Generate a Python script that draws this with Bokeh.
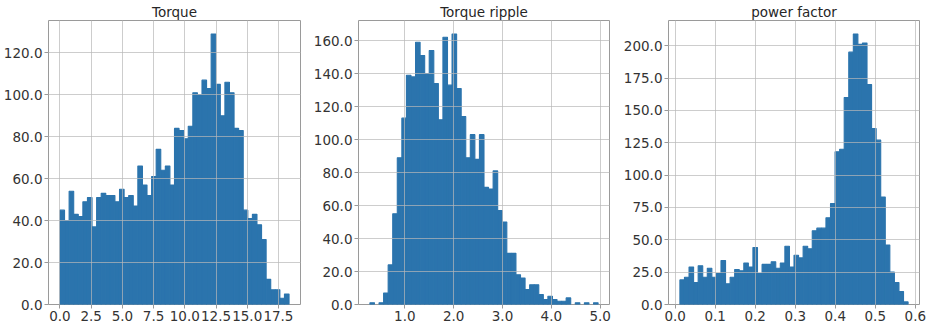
import numpy as np
from bokeh.plotting import figure
from bokeh.layouts import row
from bokeh.models import FixedTicker, NumeralTickFormatter, ColumnDataSource
from bokeh.embed import file_html
from bokeh.resources import INLINE

# ---- data (histogram counts, 50 bins each) ----
torque_title = "Torque"
torque_range = (0.0, 18.35)
torque_counts = [45, 40, 54, 43, 42, 49, 51, 37, 51, 53,
                 52, 52, 49, 55, 51, 52, 47, 66, 57, 52,
                 61, 74, 64, 66, 57, 84, 83, 79, 85, 101,
                 100, 107, 103, 129, 105, 90, 106, 101, 84, 83,
                 45, 41, 43, 38, 31, 12, 7, 7, 3, 5]
torque_xticks = [0.0, 2.5, 5.0, 7.5, 10.0, 12.5, 15.0, 17.5]
torque_yticks = [0, 20, 40, 60, 80, 100, 120]

ripple_title = "Torque ripple"
ripple_range = (0.285, 4.957)
ripple_counts = [1, 0, 1, 7, 24, 55, 89, 113, 139, 138,
                 159, 151, 140, 154, 134, 112, 162, 133, 164, 131,
                 114, 89, 103, 88, 103, 71, 70, 81, 57, 50,
                 31, 31, 18, 16, 9, 12, 12, 6, 3, 5,
                 3, 2, 2, 4, 0, 1, 0, 1, 0, 1]
ripple_xticks = [1.0, 2.0, 3.0, 4.0, 5.0]
ripple_yticks = [0, 20, 40, 60, 80, 100, 120, 140, 160]

pf_title = "power factor"
pf_range = (0.0118, 0.582)
pf_counts = [19, 21, 29, 17, 30, 21, 28, 21, 24, 34,
             16, 21, 27, 26, 32, 29, 44, 24, 31, 31,
             33, 28, 32, 45, 29, 38, 36, 45, 43, 57,
             59, 59, 67, 78, 118, 120, 160, 195, 209, 201,
             202, 170, 136, 127, 83, 46, 25, 17, 10, 2]
pf_xticks = [0.0, 0.1, 0.2, 0.3, 0.4, 0.5, 0.6]
pf_yticks = [0, 25, 50, 75, 100, 125, 150, 175, 200]

BAR = "#2b74ad"
FONT = "DejaVu Sans"


def make(title, counts, rng, xticks, yticks, frame_w, right_border):
    lo, hi = rng
    edges = np.linspace(lo, hi, len(counts) + 1)
    pad = 0.05 * (hi - lo)
    ymax = max(counts) * 1.05
    nz = [i for i, c in enumerate(counts) if c > 0]
    src = ColumnDataSource(dict(left=edges[:-1][nz], right=edges[1:][nz],
                                top=[counts[i] for i in nz],
                                bottom=[0] * len(nz)))
    p = figure(frame_width=frame_w, frame_height=284,
               x_range=(lo - pad, hi + pad), y_range=(0, ymax),
               output_backend="svg", toolbar_location=None,
               min_border_left=48, min_border_right=right_border,
               min_border_top=20, min_border_bottom=22)
    p.quad(left="left", right="right", top="top", bottom="bottom", source=src,
           fill_color=BAR, line_color=BAR, line_width=1.1)
    p.title.text = title
    p.title.align = "center"
    p.title.text_font = FONT
    p.title.text_font_size = "13.5px"
    p.title.text_font_style = "normal"
    p.title.text_color = "#262626"
    p.title.standoff = 2
    p.title.offset = 0
    p.xaxis.ticker = FixedTicker(ticks=xticks)
    p.yaxis.ticker = FixedTicker(ticks=yticks)
    p.xaxis.formatter = NumeralTickFormatter(format="0.0")
    p.yaxis.formatter = NumeralTickFormatter(format="0.0")
    for ax in (p.xaxis, p.yaxis):
        ax.axis_line_color = None
        ax.major_tick_out = 4
        ax.major_tick_in = 0
        ax.minor_tick_line_color = None
        ax.major_tick_line_color = "#9a9a9a"
        ax.major_label_text_font = FONT
        ax.major_label_text_font_size = "13.5px"
        ax.major_label_text_color = "#333333"
        ax.major_label_standoff = 2
    p.grid.grid_line_color = "#b8b8b8"
    p.grid.grid_line_alpha = 0.7
    p.grid.grid_line_width = 1
    p.grid.level = "overlay"
    p.outline_line_color = "#9a9a9a"
    p.outline_line_width = 1
    p.background_fill_color = "white"
    p.border_fill_color = "white"
    return p


p1 = make(torque_title, torque_counts, torque_range, torque_xticks, torque_yticks, 252, 10)
p2 = make(ripple_title, ripple_counts, ripple_range, ripple_xticks, ripple_yticks, 251, 11)
p3 = make(pf_title, pf_counts, pf_range, pf_xticks, pf_yticks, 251, 11)

layout = row(p1, p2, p3, spacing=0)
open("out.html", "w").write(file_html(layout, INLINE))
